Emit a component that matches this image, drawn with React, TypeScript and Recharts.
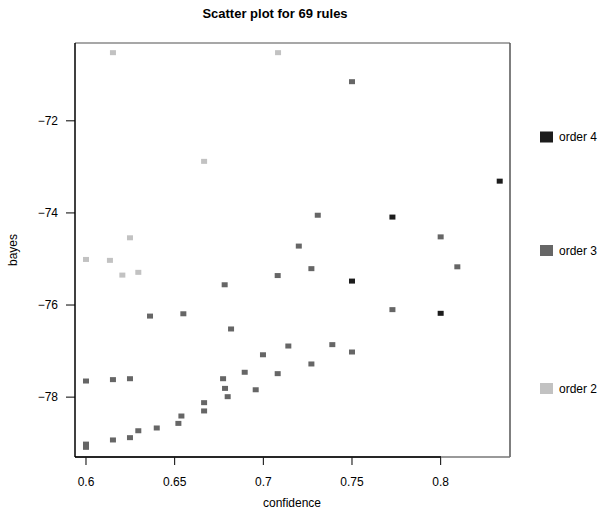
import React from 'react';
import { ScatterChart, Scatter, XAxis, YAxis } from 'recharts';

const order4Confidence = [0.8333, 0.7728, 0.75, 0.8];
const order4Bayes = [-73.31, -74.09, -75.48, -76.18];

const order3Confidence = [
  0.75, 0.7307, 0.8, 0.72, 0.7081, 0.7271, 0.8094, 0.7728, 0.7141, 0.7389,
  0.75, 0.7271, 0.7081, 0.6782, 0.6361, 0.6549, 0.6818, 0.6998, 0.6895, 0.6,
  0.6152, 0.6248, 0.6773, 0.6784, 0.6957, 0.6799, 0.6666, 0.6666, 0.6538, 0.6521,
  0.6399, 0.6295, 0.6248, 0.6152, 0.6, 0.6,
];
const order3Bayes = [
  -71.15, -74.05, -74.52, -74.72, -75.36, -75.21, -75.17, -76.1, -76.89, -76.86,
  -77.02, -77.28, -77.49, -75.56, -76.24, -76.19, -76.52, -77.08, -77.46, -77.65,
  -77.62, -77.6, -77.6, -77.81, -77.84, -77.99, -78.12, -78.3, -78.41, -78.57,
  -78.67, -78.73, -78.88, -78.93, -79.02, -79.09,
];

const order2Confidence = [0.6152, 0.7083, 0.6666, 0.6248, 0.6, 0.6135, 0.6205, 0.6295];
const order2Bayes = [-70.52, -70.52, -72.88, -74.54, -75.01, -75.03, -75.35, -75.29];

const xTicks = [0.6, 0.65, 0.7, 0.75, 0.8];
const yTicks = [-78, -76, -74, -72];
const legendLabels = ['order 4', 'order 3', 'order 2'];
const colors = ['#1c1c1c', '#666666', '#c2c2c2'];

const zip = (xs: number[], ys: number[]) => xs.map((x, i) => ({ confidence: x, bayes: ys[i] }));
const data4 = zip(order4Confidence, order4Bayes);
const data3 = zip(order3Confidence, order3Bayes);
const data2 = zip(order2Confidence, order2Bayes);

const FONT = '"Liberation Sans", Arial, Helvetica, sans-serif';

const makeShape = (fill: string) => (props: any) => {
  const { cx, cy } = props;
  return <rect x={cx - 3} y={cy - 2.5} width={6} height={5} fill={fill} />;
};

const W = 608;
const H = 510;
const L = 75, R = 510, T = 43, B = 457;

export default function App() {
  return (
    <div style={{ position: 'absolute', left: 0, top: 0, width: W, height: H, background: '#fff' }}>
      <ScatterChart
        width={W}
        height={H}
        margin={{ top: T, right: W - R, bottom: 3, left: 15 }}
        style={{ fontFamily: FONT }}
      >
        <XAxis
          type="number"
          dataKey="confidence"
          domain={[0.5938, 0.8391]}
          allowDataOverflow
          ticks={xTicks}
          tickFormatter={(v: number) => String(v)}
          axisLine={false}
          tickLine={{ stroke: '#000' }}
          tickSize={8}
          tickMargin={12}
          height={B - T >= 0 ? H - B - 3 : 50}
          tick={{ fill: '#000', fontSize: 12, fontFamily: FONT }}
          interval={0}
        />
        <YAxis
          type="number"
          dataKey="bayes"
          domain={[-79.3, -70.31]}
          allowDataOverflow
          ticks={yTicks}
          tickFormatter={(v: number) => String(v).replace('-', '\u2212')}
          axisLine={false}
          tickLine={{ stroke: '#000' }}
          tickSize={9}
          tickMargin={8}
          width={60}
          tick={{ fill: '#000', fontSize: 12, fontFamily: FONT }}
          interval={0}
        />
        <Scatter data={data3} shape={makeShape(colors[1])} isAnimationActive={false} />
        <Scatter data={data2} shape={makeShape(colors[2])} isAnimationActive={false} />
        <Scatter data={data4} shape={makeShape(colors[0])} isAnimationActive={false} />
      </ScatterChart>
      <svg
        width={W}
        height={H}
        style={{ position: 'absolute', left: 0, top: 0, pointerEvents: 'none', fontFamily: FONT }}
      >
        <line x1={L} y1={T} x2={R} y2={T} stroke="#8a8a8a" strokeWidth={1.5} />
        <line x1={R} y1={T} x2={R} y2={B} stroke="#555" strokeWidth={1.5} />
        <line x1={L} y1={B} x2={R} y2={B} stroke="#777" strokeWidth={1.5} />
        <line x1={L} y1={T} x2={L} y2={B} stroke="#000" strokeWidth={1.5} />
        <line x1={L} y1={B} x2={441} y2={B} stroke="#000" strokeWidth={1.5} />
        <text x={275} y={18} textAnchor="middle" fontSize={13} fontWeight="bold" fill="#000">
          Scatter plot for 69 rules
        </text>
        <text x={292} y={507} textAnchor="middle" fontSize={12} fill="#000">
          confidence
        </text>
        <text
          x={17}
          y={250}
          textAnchor="middle"
          fontSize={12}
          fill="#000"
          transform="rotate(-90 17 250)"
        >
          bayes
        </text>
        {legendLabels.map((lab, i) => {
          const cy = [137, 250.5, 388.5][i];
          return (
            <g key={lab}>
              <rect x={540} y={cy - 5.5} width={13} height={11} fill={colors[i]} />
              <text x={559} y={cy + 4} fontSize={12} fill="#000">
                {lab}
              </text>
            </g>
          );
        })}
      </svg>
    </div>
  );
}
